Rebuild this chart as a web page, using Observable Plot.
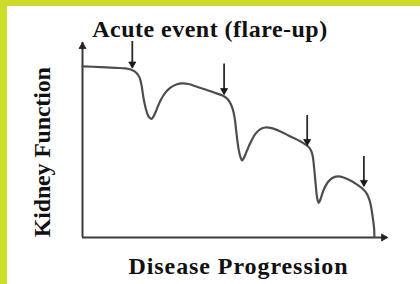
<!DOCTYPE html>
<html>
<head>
<meta charset="utf-8">
<script src="https://cdn.jsdelivr.net/npm/d3@7"></script>
<script src="https://cdn.jsdelivr.net/npm/@observablehq/plot@0.6"></script>
<style>
html, body { margin: 0; padding: 0; background: #fff; }
#frame { width: 420px; height: 284px; box-sizing: border-box; border-top: 6px solid #cddc28; border-left: 7px solid #cddc28; background: #fff; overflow: hidden; }
#frame svg { display: block; }
</style>
</head>
<body>
<div id="frame"></div>
<script>
// Disease progression (x, arbitrary 0-100) and kidney function (y, arbitrary 0-100)
const progression = [0, 6, 11, 14.3, 16.3, 18, 19, 19.7, 20.3, 21, 21.7, 22.3, 23, 23.7, 24.7, 26, 27.7, 29.3, 31.3, 33.3, 35.3, 38, 41, 44.3, 46.7, 48, 49, 50, 50.7, 51.3, 52, 52.7, 53.2, 53.7, 54.7, 56, 57.7, 59.3, 61, 62.7, 66, 69.3, 72.7, 75, 76, 76.7, 77.2, 77.7, 78.2, 78.7, 79.3, 80.3, 81.7, 83.3, 85, 87, 89.3, 91.3, 93.3, 94.7, 95.7, 96.3, 96.8, 97.2, 97.3];
const kidneyFunction = [87.8, 87.4, 87.0, 86.7, 86.0, 84.4, 82.1, 77.9, 71.8, 66.7, 63.1, 61.5, 60.8, 62.1, 65.6, 70.3, 74.4, 76.9, 78.5, 79.0, 78.7, 77.4, 75.9, 74.1, 72.8, 71.5, 69.7, 66.2, 61.5, 53.8, 45.6, 41.0, 39.5, 40.5, 44.1, 48.7, 53.3, 55.6, 56.4, 56.2, 54.4, 51.8, 49.2, 46.9, 45.1, 42.1, 35.9, 27.7, 20.5, 17.7, 19.5, 24.1, 28.2, 30.5, 31.3, 30.8, 29.2, 27.4, 25.1, 22.6, 19.0, 14.9, 9.7, 4.6, 0.3];

// Acute events (flare-ups): arrow position, arrow top, arrow tip
const eventX = [16.6, 47.2, 74.9, 93.8];
const eventTop = [100.5, 89.0, 62.6, 41.5];
const eventTip = [86.9, 73.3, 47.2, 26.2];

// Axis extents
const axisXEnd = [101.7];
const axisYEnd = [100];

const titleText = ["Acute event (flare-up)"];
const xLabel = ["Disease Progression"];
const yLabel = ["Kidney Function"];

const curve = progression.map((x, i) => ({x, y: kidneyFunction[i]}));
const events = eventX.map((x, i) => ({x, top: eventTop[i], tip: eventTip[i]}));

const ink = "#111";
const serif = "'Liberation Serif', 'Times New Roman', serif";

const chart = Plot.plot({
  width: 413,
  height: 278,
  marginLeft: 75,
  marginRight: 38,
  marginTop: 36,
  marginBottom: 47,
  x: {domain: [0, 100], axis: null},
  y: {domain: [0, 100], axis: null},
  style: {background: "white", fontFamily: serif, color: ink},
  marks: [
    // axes
    Plot.ruleY([0], {x1: 0, x2: axisXEnd[0], stroke: "#3a3a3a", strokeWidth: 2}),
    Plot.ruleX([0], {y1: 0, y2: axisYEnd[0], stroke: "#3a3a3a", strokeWidth: 2}),
    Plot.dot(axisXEnd, {x: d => d, y: 0, symbol: "triangle", r: 2.6, rotate: 90, dx: -4, fill: "#222", stroke: "#222", strokeWidth: 0.8}),
    Plot.dot(axisYEnd, {x: 0, y: d => d, symbol: "triangle", r: 2.6, rotate: 0, dy: 4, fill: "#222", stroke: "#222", strokeWidth: 0.8}),
    // kidney function curve
    Plot.line(curve, {x: "x", y: "y", curve: "catmull-rom", stroke: "#4d4d4d", strokeWidth: 2.2}),
    // acute event arrows
    Plot.ruleX(events, {x: "x", y1: "tip", y2: "top", stroke: "#2a2a2a", strokeWidth: 1.8}),
    Plot.dot(events, {x: "x", y: "tip", symbol: "triangle", r: 2.6, rotate: 180, dy: -4, fill: "#1a1a1a", stroke: "#1a1a1a", strokeWidth: 0.8}),
    // texts
    Plot.text(titleText, {text: d => d, frameAnchor: "top-left", textAnchor: "start", lineAnchor: "bottom", dx: 9.7, dy: -6, fontSize: 24, fontWeight: "bold", fill: ink}),
    Plot.text(yLabel, {text: d => d, frameAnchor: "left", rotate: -90, textAnchor: "middle", lineAnchor: "middle", dx: -40.4, dy: 12.2, fontSize: 24, fontWeight: "bold", fill: ink}),
    Plot.text(xLabel, {text: d => d, frameAnchor: "bottom", textAnchor: "middle", lineAnchor: "bottom", dx: 5.5, dy: 36.3, fontSize: 24, fontWeight: "bold", fill: ink})
  ]
});

// stretch the labels to the widths of the original's wider serif face
const textWidths = new Map([[titleText[0], 235], [xLabel[0], 219], [yLabel[0], 170]]);
d3.select(chart).selectAll("text").each(function () {
  const w = textWidths.get(this.textContent);
  if (w) d3.select(this).attr("textLength", w).attr("lengthAdjust", "spacing");
});

document.getElementById("frame").appendChild(chart);
</script>
</body>
</html>
